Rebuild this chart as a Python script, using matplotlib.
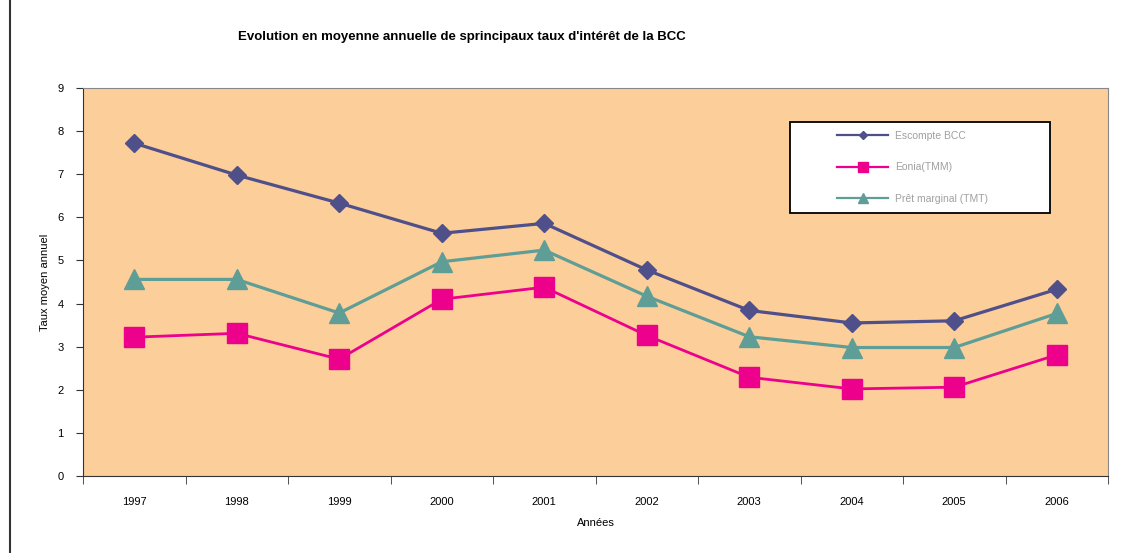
import matplotlib
matplotlib.use('Agg')
import matplotlib.pyplot as plt
from matplotlib.lines import Line2D
from matplotlib.patches import Rectangle
import numpy as np

plt.rcParams['font.family'] = ['Liberation Sans', 'DejaVu Sans']

annees = ['1997', '1998', '1999', '2000', '2001', '2002', '2003', '2004', '2005', '2006']
escompte = [7.72, 6.98, 6.33, 5.63, 5.86, 4.78, 3.84, 3.55, 3.60, 4.33]
eonia = [3.22, 3.31, 2.71, 4.10, 4.38, 3.26, 2.29, 2.02, 2.06, 2.81]
pret_marginal = [4.56, 4.56, 3.78, 4.97, 5.24, 4.17, 3.23, 2.98, 2.98, 3.77]

fig = plt.figure(figsize=(11.32, 5.53), dpi=100)
ax = fig.add_axes([83/1132, 1 - 476/553, (1108 - 83)/1132, (476 - 88)/553])
ax.set_facecolor('#FCCE9A')

x = np.arange(len(annees))
ax.plot(x, escompte, color='#4F4F89', lw=2.3, marker='D', ms=9, label='Escompte BCC')
ax.plot(x, eonia, color='#EC008C', lw=2.0, marker='s', ms=14, label='Eonia(TMM)')
ax.plot(x, pret_marginal, color='#5F9E96', lw=2.3, marker='^', ms=14, label='Prêt marginal (TMT)')

ax.set_xlim(-0.5, len(annees) - 0.5)
ax.set_ylim(0, 9)
ax.set_yticks(range(10))
ax.set_xticks(x)
ax.set_xticklabels(annees, fontsize=8)
ax.tick_params(axis='x', which='major', length=0, pad=15)
ax.set_xticks(np.arange(-0.5, len(annees)), minor=True)
ax.tick_params(axis='x', which='minor', length=6, direction='out', color='#333333')
ax.tick_params(axis='y', length=5, labelsize=8, pad=9, color='#333333')

for s in ax.spines.values():
    s.set_color('#888888')
    s.set_linewidth(0.8)
ax.spines['left'].set_color('#333333')
ax.spines['bottom'].set_color('#333333')

ax.set_ylabel('Taux moyen annuel', fontsize=8, labelpad=5)
ax.set_xlabel('Années', fontsize=8, labelpad=8)

fig.text(462/1132, 1 - 37/553, "Evolution en moyenne annuelle de sprincipaux taux d'intérêt de la BCC",
         ha='center', va='center', fontsize=9.5, fontweight='bold')

# cadre de la légende
x0, x1 = (790 - 83)/1025, (1050 - 83)/1025
y1, y0 = 1 - (122 - 88)/388, 1 - (213 - 88)/388
ax.add_patch(Rectangle((x0, y0), x1 - x0, y1 - y0, transform=ax.transAxes,
                       facecolor='white', edgecolor='black', lw=1.3, zorder=4))

leg = ax.legend(loc='upper left', bbox_to_anchor=((837 - 83)/1025, 1 - (131 - 88)/388),
                fontsize=7.5, frameon=False, labelspacing=2.05,
                borderpad=0, handlelength=4.9, handletextpad=0.7,
                markerscale=0.5, borderaxespad=0)
leg.set_zorder(5)
for t in leg.get_texts():
    t.set_color('#A0A0A0')
for l in leg.get_lines():
    l.set_linewidth(1.6)

# bordure gauche de la page
fig.add_artist(Line2D([10/1132, 10/1132], [0, 1], color='#333333', lw=1.5))

fig.savefig('out.png', dpi=100, facecolor='white')
